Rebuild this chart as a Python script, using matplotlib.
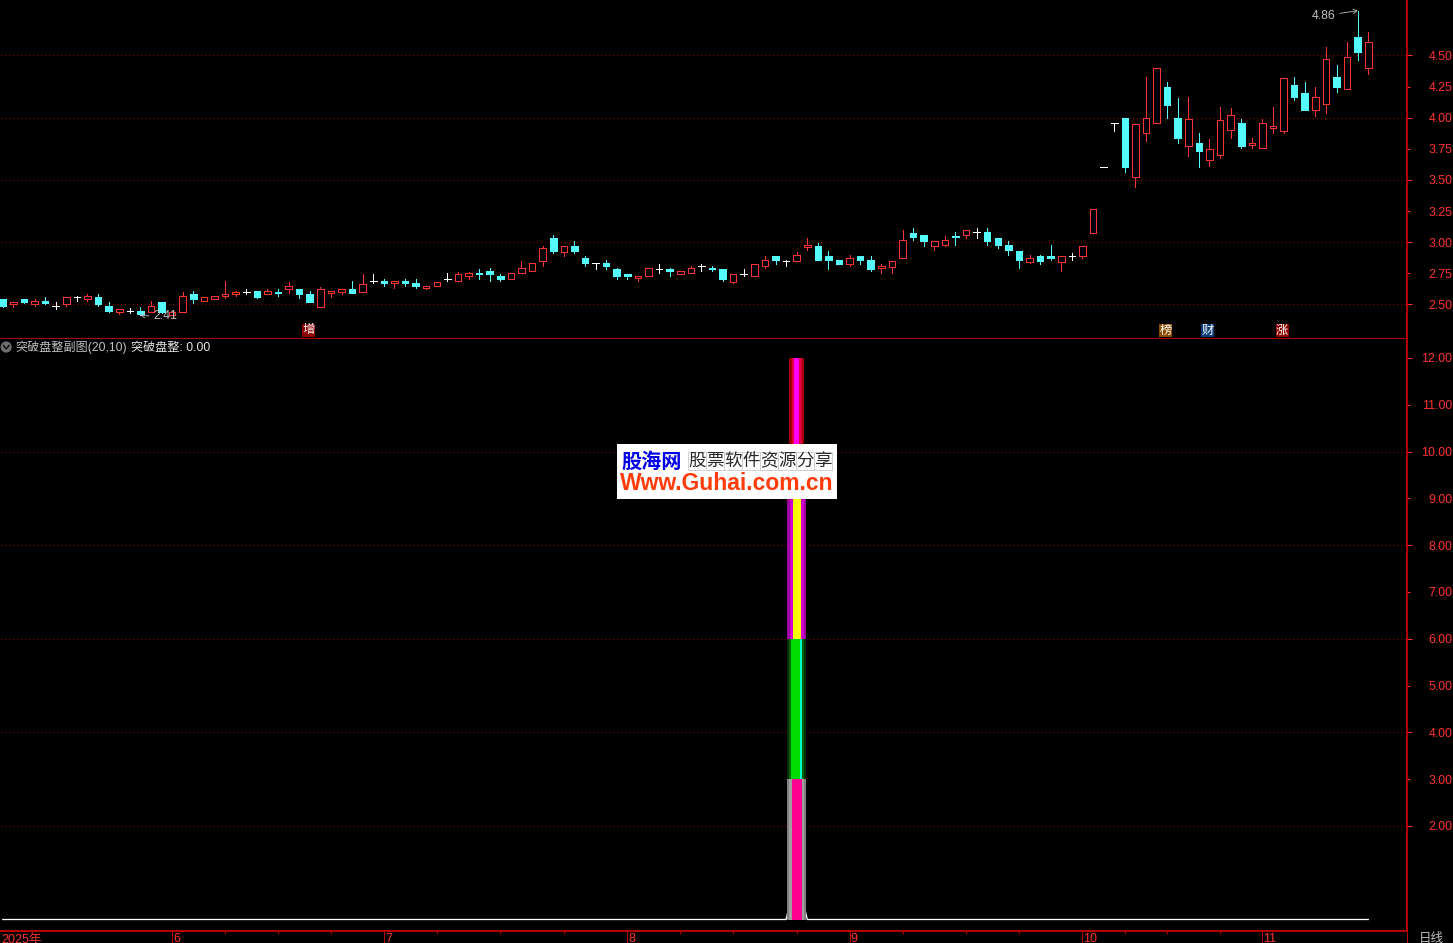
import matplotlib
matplotlib.use('Agg')
import matplotlib.pyplot as plt
from matplotlib.patches import Rectangle, Circle

plt.rcParams['font.family'] = ['Liberation Sans', 'Noto Sans CJK SC', 'DejaVu Sans']

# Daily prices, one candle per trading day
opens = [
    2.54, 2.50, 2.54, 2.50, 2.53, 2.49, 2.50, 2.56, 2.54, 2.56,
    2.49, 2.44, 2.45, 2.45, 2.44, 2.52, 2.41, 2.44, 2.58, 2.53,
    2.54, 2.57, 2.58, 2.60, 2.61, 2.58, 2.60, 2.62, 2.62, 2.58,
    2.48, 2.59, 2.60, 2.62, 2.60, 2.69, 2.69, 2.67, 2.69, 2.67,
    2.63, 2.65, 2.70, 2.69, 2.73, 2.75, 2.77, 2.73, 2.70, 2.75,
    2.77, 2.85, 3.03, 2.92, 2.97, 2.87, 2.83, 2.83, 2.78, 2.74,
    2.71, 2.73, 2.78, 2.78, 2.74, 2.75, 2.81, 2.79, 2.78, 2.68,
    2.74, 2.73, 2.81, 2.89, 2.85, 2.85, 2.96, 2.97, 2.89, 2.86,
    2.82, 2.89, 2.86, 2.79, 2.80, 2.87, 3.07, 3.06, 2.97, 2.98,
    3.05, 3.06, 3.08, 3.08, 3.03, 2.98, 2.93, 2.84, 2.89, 2.89,
    2.84, 2.89, 2.89, 3.07, 3.60, 3.96, 4.00, 3.52, 3.88, 3.96,
    4.25, 4.00, 3.77, 3.80, 3.66, 3.70, 3.90, 3.96, 3.78, 3.76,
    3.92, 3.89, 4.26, 4.20, 4.06, 4.11, 4.33, 4.23, 4.65, 4.40,
]
highs = [
    2.54, 2.52, 2.54, 2.54, 2.56, 2.52, 2.56, 2.57, 2.58, 2.58,
    2.52, 2.46, 2.47, 2.48, 2.53, 2.52, 2.45, 2.60, 2.61, 2.56,
    2.57, 2.69, 2.61, 2.62, 2.61, 2.62, 2.62, 2.68, 2.62, 2.61,
    2.64, 2.61, 2.62, 2.69, 2.74, 2.74, 2.70, 2.69, 2.70, 2.70,
    2.65, 2.68, 2.75, 2.76, 2.76, 2.78, 2.79, 2.74, 2.75, 2.85,
    2.83, 2.97, 3.06, 2.97, 3.01, 2.89, 2.83, 2.86, 2.79, 2.74,
    2.73, 2.79, 2.82, 2.79, 2.77, 2.81, 2.82, 2.81, 2.78, 2.74,
    2.78, 2.82, 2.89, 2.89, 2.86, 2.92, 3.03, 2.99, 2.93, 2.86,
    2.90, 2.89, 2.89, 2.82, 2.85, 3.10, 3.11, 3.06, 3.01, 3.05,
    3.08, 3.10, 3.11, 3.11, 3.03, 3.01, 2.93, 2.90, 2.90, 2.98,
    2.89, 2.91, 2.97, 3.27, 3.60, 3.96, 4.00, 3.95, 4.33, 4.40,
    4.29, 4.16, 4.17, 3.88, 3.83, 4.09, 4.08, 3.99, 3.84, 3.99,
    4.09, 4.32, 4.33, 4.29, 4.25, 4.57, 4.42, 4.61, 4.86, 4.69,
]
lows = [
    2.48, 2.48, 2.51, 2.49, 2.50, 2.46, 2.49, 2.53, 2.53, 2.49,
    2.44, 2.42, 2.43, 2.41, 2.44, 2.43, 2.41, 2.44, 2.51, 2.53,
    2.54, 2.55, 2.57, 2.58, 2.55, 2.58, 2.57, 2.59, 2.55, 2.52,
    2.48, 2.56, 2.58, 2.59, 2.60, 2.67, 2.65, 2.63, 2.65, 2.63,
    2.62, 2.65, 2.69, 2.69, 2.70, 2.70, 2.69, 2.69, 2.70, 2.75,
    2.77, 2.81, 2.91, 2.89, 2.91, 2.81, 2.78, 2.78, 2.70, 2.70,
    2.69, 2.73, 2.75, 2.73, 2.74, 2.75, 2.77, 2.77, 2.69, 2.67,
    2.73, 2.73, 2.79, 2.82, 2.81, 2.85, 2.94, 2.86, 2.78, 2.82,
    2.81, 2.82, 2.77, 2.75, 2.75, 2.87, 3.02, 2.97, 2.94, 2.97,
    2.98, 3.03, 3.03, 2.98, 2.95, 2.90, 2.79, 2.83, 2.82, 2.86,
    2.77, 2.86, 2.87, 3.07, 3.60, 3.89, 3.56, 3.44, 3.81, 3.96,
    4.00, 3.80, 3.69, 3.60, 3.61, 3.68, 3.84, 3.76, 3.76, 3.76,
    3.88, 3.88, 4.14, 4.06, 4.01, 4.04, 4.21, 4.23, 4.46, 4.35,
]
closes = [
    2.49, 2.52, 2.52, 2.53, 2.51, 2.49, 2.56, 2.56, 2.57, 2.50,
    2.45, 2.46, 2.45, 2.42, 2.49, 2.44, 2.44, 2.57, 2.54, 2.56,
    2.57, 2.58, 2.60, 2.60, 2.56, 2.61, 2.59, 2.65, 2.58, 2.52,
    2.62, 2.61, 2.62, 2.59, 2.66, 2.69, 2.67, 2.69, 2.67, 2.65,
    2.65, 2.68, 2.70, 2.74, 2.75, 2.74, 2.74, 2.70, 2.75, 2.79,
    2.83, 2.95, 2.93, 2.97, 2.93, 2.83, 2.83, 2.81, 2.73, 2.73,
    2.73, 2.79, 2.78, 2.77, 2.77, 2.79, 2.81, 2.78, 2.70, 2.74,
    2.74, 2.82, 2.86, 2.86, 2.85, 2.90, 2.98, 2.86, 2.86, 2.82,
    2.87, 2.86, 2.78, 2.81, 2.85, 3.02, 3.04, 3.01, 3.01, 3.02,
    3.04, 3.10, 3.08, 3.01, 2.98, 2.94, 2.86, 2.87, 2.85, 2.87,
    2.89, 2.89, 2.97, 3.27, 3.60, 3.96, 3.60, 3.95, 4.00, 4.40,
    4.10, 3.84, 3.99, 3.73, 3.75, 3.98, 4.02, 3.77, 3.80, 3.96,
    3.93, 4.32, 4.17, 4.06, 4.17, 4.47, 4.25, 4.49, 4.53, 4.61,
]

# Indicator line: zero everywhere except a small blip on the breakout day
signal = [0.0] * 75 + [1.0] + [0.0] * 54
breakout_day = 75
spike_levels = [0, 3, 6, 9, 12]

price_ticks_major = [2.50, 3.00, 3.50, 4.00, 4.50]
price_ticks_minor = [2.75, 3.25, 3.75, 4.25]
signal_ticks_major = [2, 4, 6, 8, 10, 12]
signal_ticks_minor = [3, 5, 7, 9, 11]
signal_grid = [2, 4, 6, 8, 10]

month_days = [16, 36, 59, 80, 102, 119]
month_labels = ['6', '7', '8', '9', '10', '11']
week_days = [21, 26, 31, 41, 47, 53, 64, 69, 75, 85, 91, 96, 106, 110, 115]

# Event markers along the bottom of the price panel
event_days = [29, 110, 114, 121]
event_labels = ['增', '榜', '财', '涨']
event_colors = ['#8c0000', '#8a4a00', '#0a3c78', '#8c0000']

W, H = 1453, 943
BLACK = '#000000'
RED = '#ff3232'
CYAN = '#54fcfc'
WHITE = '#ffffff'
GRAY = '#c0c0c0'
AXIS_RED = '#b40000'
GRID_RED = '#9a0000'
AXIS_RIGHT = 1406.5
SPLIT_Y = 338.5
BOTTOM_Y = 930.5
DAY_PX = 10.585
FIRST_DAY_PX = 2.8
ONE_PX = 0.72


def fx(x):
    return x / W


def fy(y):
    return 1 - y / H


def px_to_pt(px):
    return px * ONE_PX


def style_panel(ax, xlim):
    ax.set_facecolor(BLACK)
    ax.set_xlim(*xlim)
    for side in ['left', 'top']:
        ax.spines[side].set_visible(False)
    for side in ['right', 'bottom']:
        ax.spines[side].set_color(AXIS_RED)
        ax.spines[side].set_linewidth(px_to_pt(2))
    ax.yaxis.tick_right()


def set_value_ticks(ax, major, minor):
    ax.set_yticks(major, [f'{v:.2f}' for v in major])
    ax.set_yticks(minor, [f'{v:.2f}' for v in minor], minor=True)
    ax.tick_params(axis='y', which='major', colors=RED, length=px_to_pt(5), width=px_to_pt(1),
                   pad=px_to_pt(41), labelsize=8.9)
    ax.tick_params(axis='y', which='minor', colors=RED, length=px_to_pt(3), width=px_to_pt(1),
                   pad=px_to_pt(43), labelsize=8.9)
    for label in ax.get_yticklabels() + ax.get_yticklabels(minor=True):
        label.set_ha('right')


def draw_candles(ax):
    half = 0.31
    for i in range(len(opens)):
        o, h, l, c = opens[i], highs[i], lows[i], closes[i]
        if o == c:
            color = WHITE
        elif c > o:
            color = RED
        else:
            color = CYAN
        ax.vlines(i, l, h, color=color, linewidth=ONE_PX, antialiased=False, zorder=2)
        if o == c:
            ax.hlines(c, i - half, i + half, color=color, linewidth=ONE_PX,
                      antialiased=False, zorder=3)
        else:
            face = BLACK if c > o else CYAN
            ax.bar(i, abs(c - o), bottom=min(o, c), width=half * 2, facecolor=face, edgecolor=color,
                   linewidth=ONE_PX, antialiased=False, zorder=3)


def draw_spike(ax):
    # Each stacked segment is a stripe set, widest first: width in px, colour, offset in px
    stripes = [
        [(19, '#808080', 0), (15, '#a0a0a0', 0), (10, '#ff0090', 0)],
        [(19, '#003000', 0), (15, '#006400', 0), (11, '#00dc00', 0), (2, '#00ffc8', 4.3)],
        [(19, '#a000a0', 0), (14, '#d000d0', 0), (8, '#ffff00', 0)],
        [(15, '#a00000', 0), (10, '#e00040', 0), (5.5, '#ff00ff', 0)],
    ]
    for k, segment in enumerate(stripes):
        bottom = spike_levels[k]
        height = spike_levels[k + 1] - bottom
        for width, color, offset in segment:
            ax.bar(breakout_day + offset / DAY_PX, height, bottom=bottom, width=width / DAY_PX,
                   color=color, linewidth=0, antialiased=False, zorder=3)


def draw_logo(fig):
    fig.add_artist(Rectangle((fx(617), fy(499)), 220 / W, 55 / H, transform=fig.transFigure,
                             facecolor=WHITE, edgecolor='none', zorder=10))
    fig.text(fx(621), fy(461), '股海网', color='#0000e6', fontsize=14.5, fontweight='bold',
             family=['Noto Sans CJK SC'], va='center', ha='left', zorder=11)
    # Boxed slogan, one character to a cell
    slogan = '股票软件资源分享'
    cell = 18
    for k, ch in enumerate(slogan):
        left = 688 + k * cell
        fig.add_artist(Rectangle((fx(left), fy(470)), cell / W, cell / H, transform=fig.transFigure,
                                 facecolor='#ffffff', edgecolor='#d0d0d0', linewidth=0.7, zorder=11))
        fig.text(fx(left + cell / 2), fy(461), ch, color='#282828', fontsize=12.6,
                 family=['Noto Sans CJK SC'], va='center', ha='center', zorder=12)
    fig.text(fx(620), fy(483.5), 'Www.Guhai.com.cn', color='#ff3c0a', fontsize=16.5, fontweight='bold',
             family=['Liberation Sans'], va='center', ha='left', zorder=11)


def main():
    fig = plt.figure(figsize=(W / 100, H / 100), dpi=100, facecolor=BLACK)
    xlim = (-FIRST_DAY_PX / DAY_PX, (AXIS_RIGHT - FIRST_DAY_PX) / DAY_PX)

    # Price panel
    ax_price = fig.add_axes([0, fy(SPLIT_Y), AXIS_RIGHT / W, SPLIT_Y / H])
    style_panel(ax_price, xlim)
    ax_price.set_ylim(4.5 - (SPLIT_Y - 55.5) / 124.4, 4.5 + 55.5 / 124.4)
    set_value_ticks(ax_price, price_ticks_major, price_ticks_minor)
    ax_price.set_xticks([])
    ax_price.hlines(price_ticks_major, xlim[0] + 0.05, xlim[1], color=GRID_RED,
                    linewidth=ONE_PX, linestyle=(0, (1, 3)), antialiased=False, zorder=1)
    draw_candles(ax_price)

    low_day = lows.index(min(lows))
    high_day = highs.index(max(highs))
    arrow = dict(arrowstyle='->,head_length=0.3,head_width=0.18', color=GRAY, linewidth=0.6,
                 shrinkA=1, shrinkB=0)
    ax_price.annotate(f'{min(lows):.2f}', xy=(low_day, min(lows)), xytext=(13, -1),
                      textcoords='offset pixels', color=GRAY, fontsize=8.9, va='center', ha='left',
                      arrowprops=arrow, zorder=5)
    ax_price.annotate(f'{max(highs):.2f}', xy=(high_day, max(highs)), xytext=(-22, -5),
                      textcoords='offset pixels', color=GRAY, fontsize=8.9, va='center', ha='right',
                      arrowprops=arrow, zorder=5)

    for day, label, color in zip(event_days, event_labels, event_colors):
        left = FIRST_DAY_PX + day * DAY_PX - 8
        fig.add_artist(Rectangle((fx(left), fy(336.5)), 13 / W, 13 / H, transform=fig.transFigure,
                                 facecolor=color, edgecolor='none', zorder=6))
        fig.text(fx(left + 6.5), fy(330), label, color=WHITE, fontsize=8.9, va='center', ha='center',
                 family=['Noto Sans CJK SC'], zorder=7)

    # Indicator panel
    ax_sig = fig.add_axes([0, fy(BOTTOM_Y), AXIS_RIGHT / W, (BOTTOM_Y - SPLIT_Y) / H])
    style_panel(ax_sig, xlim)
    ax_sig.set_ylim((919.5 - BOTTOM_Y) / 46.8, (919.5 - SPLIT_Y) / 46.8)
    set_value_ticks(ax_sig, signal_ticks_major, signal_ticks_minor)
    ax_sig.hlines(signal_grid, xlim[0] + 0.05, xlim[1], color=GRID_RED,
                  linewidth=ONE_PX, linestyle=(0, (1, 3)), antialiased=False, zorder=1)
    ax_sig.plot(range(len(signal)), signal, color=WHITE, linewidth=px_to_pt(1.3), zorder=2)
    draw_spike(ax_sig)

    # Time axis: long separators at months, short marks at weeks
    ax_sig.set_xticks(month_days, [''] * len(month_days))
    ax_sig.set_xticks(week_days, minor=True)
    ax_sig.tick_params(axis='x', which='major', colors=AXIS_RED, length=px_to_pt(13), width=ONE_PX)
    ax_sig.tick_params(axis='x', which='minor', colors=AXIS_RED, length=px_to_pt(3), width=ONE_PX)
    time_tf = ax_sig.get_xaxis_transform()
    for day, label in zip(month_days, month_labels):
        ax_sig.annotate(label, xy=(day, 0), xycoords=time_tf, xytext=(1, -3), textcoords='offset pixels',
                        color=RED, fontsize=9, va='top', ha='left', annotation_clip=False)
    ax_sig.annotate('2025年', xy=(0, 0), xycoords=time_tf, xytext=(-1, -3), textcoords='offset pixels',
                    color=RED, fontsize=9, va='top', ha='left', annotation_clip=False)
    fig.text(fx(1419), fy(933), '日线', color=GRAY, fontsize=9, va='top', ha='left')
    fig.add_artist(plt.Line2D([fx(AXIS_RIGHT), fx(AXIS_RIGHT)], [fy(BOTTOM_Y), 0], color=AXIS_RED,
                              linewidth=ONE_PX))

    # Indicator title row
    fig.add_artist(Circle((6.2, H - 347), 5.6, transform=None, facecolor='#6e6e6e', edgecolor='none'))
    fig.add_artist(plt.Line2D([fx(3.5), fx(6.2), fx(9)], [fy(345.5), fy(349), fy(345.5)], color='#101010',
                              linewidth=px_to_pt(1.5)))
    fig.text(fx(15), fy(347.5), '突破盘整副图(20,10)', color=GRAY, fontsize=8.7, va='center', ha='left')
    fig.text(fx(131), fy(347.5), f'突破盘整: {signal[-1]:.2f}', color='#e6e6e6', fontsize=8.7,
             va='center', ha='left')

    draw_logo(fig)

    fig.savefig('out.png', dpi=100, facecolor=BLACK)
    plt.close(fig)


if __name__ == '__main__':
    main()
